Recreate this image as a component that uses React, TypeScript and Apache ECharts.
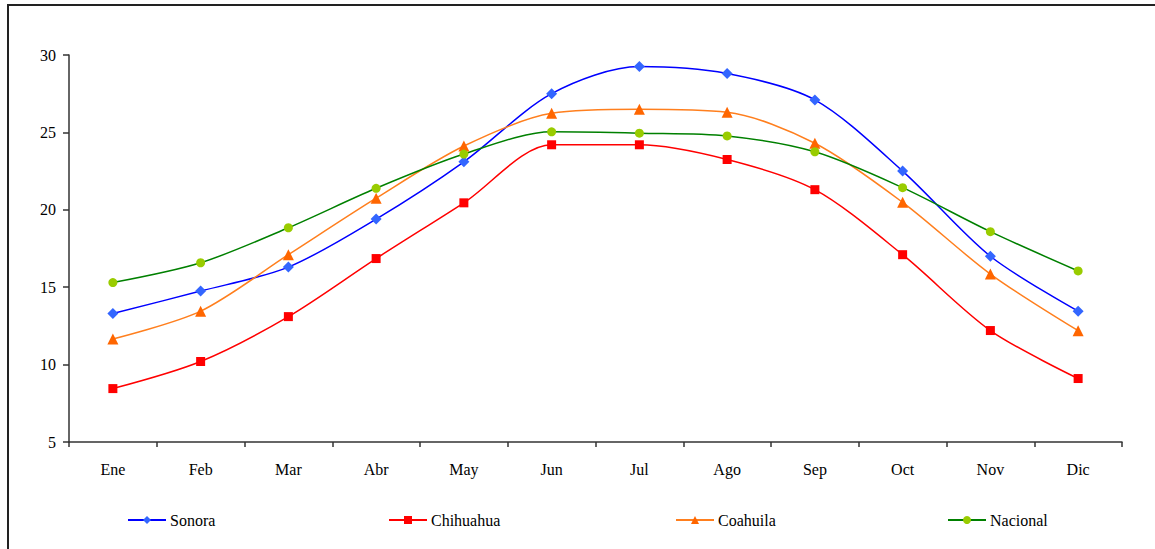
import React, { useEffect, useRef } from "react";
import * as echarts from "echarts";

const months = ["Ene", "Feb", "Mar", "Abr", "May", "Jun", "Jul", "Ago", "Sep", "Oct", "Nov", "Dic"];
const sonora = [13.3, 14.75, 16.3, 19.4, 23.1, 27.5, 29.25, 28.8, 27.1, 22.5, 17.0, 13.45];
const chihuahua = [8.45, 10.2, 13.1, 16.85, 20.45, 24.2, 24.2, 23.25, 21.3, 17.1, 12.2, 9.1];
const coahuila = [11.65, 13.45, 17.1, 20.75, 24.12, 26.23, 26.49, 26.3, 24.3, 20.48, 15.85, 12.19];
const nacional = [15.3, 16.58, 18.84, 21.39, 23.6, 25.04, 24.95, 24.77, 23.75, 21.43, 18.59, 16.05];
const yTicks = { min: 5, max: 30, interval: 5 };

const FONT = "serif";

export default function App() {
  const ref = useRef<HTMLDivElement>(null);
  useEffect(() => {
    if (!ref.current) return;
    const chart = echarts.init(ref.current, undefined, { renderer: "svg" });
    const mk = (name: string, data: number[], symbol: string, size: number, mColor: string, lColor: string) => ({
      name,
      type: "line",
      data,
      smooth: 0.3,
      symbol,
      symbolSize: size,
      itemStyle: { color: mColor },
      lineStyle: { color: lColor, width: 1.5 },
    });
    const legendBase = {
      bottom: 21,
      itemWidth: 38,
      itemHeight: 10,
      itemGap: 4,
      textStyle: { fontFamily: FONT, fontSize: 16, color: "#000", padding: [0, 0, 0, -1] },
      padding: 0,
    };
    chart.setOption({
      animation: false,
      backgroundColor: "#fff",
      textStyle: { fontFamily: FONT },
      grid: { left: 69, right: 33, top: 55, bottom: 107 },
      xAxis: {
        type: "category",
        data: months,
        boundaryGap: true,
        axisLine: { lineStyle: { color: "#333", width: 1.5 } },
        axisTick: { show: true, length: 5, lineStyle: { color: "#333", width: 1.5 } },
        axisLabel: { fontFamily: FONT, fontSize: 16, color: "#000", margin: 19 },
        splitLine: { show: false },
      },
      yAxis: {
        type: "value",
        min: yTicks.min,
        max: yTicks.max,
        interval: yTicks.interval,
        axisLine: { show: true, lineStyle: { color: "#333", width: 1.5 } },
        axisTick: { show: true, inside: false, length: 6, lineStyle: { color: "#333", width: 1.5 } },
        axisLabel: { fontFamily: FONT, fontSize: 16, color: "#000", margin: 13 },
        splitLine: { show: false },
      },
      legend: [
        { ...legendBase, left: 127, data: ["Sonora"] },
        { ...legendBase, left: 388, data: ["Chihuahua"] },
        { ...legendBase, left: 675, data: ["Coahuila"] },
        { ...legendBase, left: 947, data: ["Nacional"] },
      ],
      graphic: [
        {
          type: "rect",
          shape: { x: 8, y: 5, width: 1300, height: 700 },
          style: { fill: "none", stroke: "#222", lineWidth: 2 },
          silent: true,
        },
      ],
      series: [
        mk("Sonora", sonora, "diamond", 11, "#3366FF", "#0000FF"),
        mk("Chihuahua", chihuahua, "rect", 9, "#FF0000", "#FF0000"),
        mk("Coahuila", coahuila, "triangle", 11, "#FF6600", "#FF7F1E"),
        mk("Nacional", nacional, "circle", 9, "#99CC00", "#008000"),
      ],
    });
    return () => chart.dispose();
  }, []);
  return (
    <div
      ref={ref}
      style={{ position: "fixed", left: 0, top: 0, width: 1155, height: 549 }}
    />
  );
}
